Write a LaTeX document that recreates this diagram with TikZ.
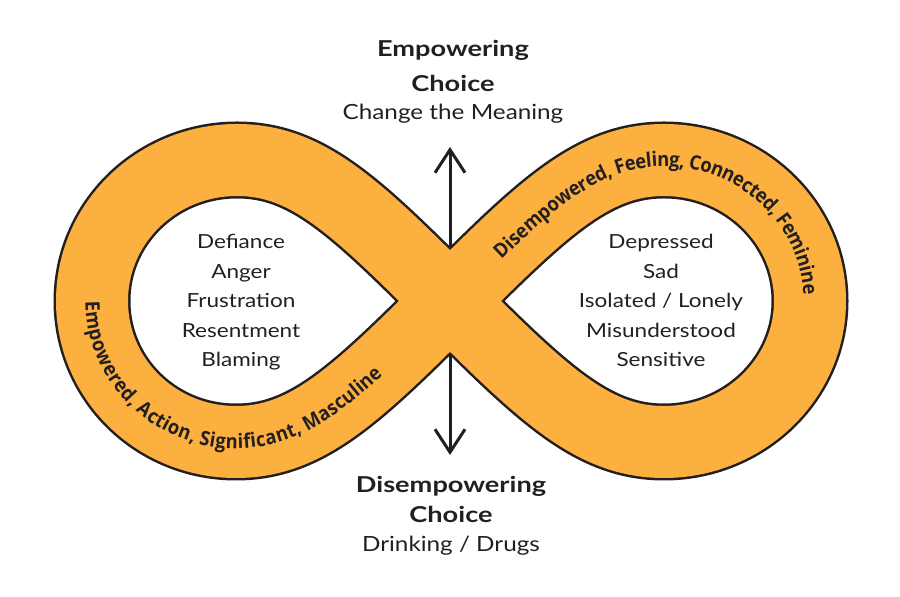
\documentclass[tikz,border=0pt]{standalone}
\usepackage{fontspec}
\setmainfont{Lato}[FakeStretch=1.16]
\newfontfamily\titlefont{Lato}[FakeStretch=1.24]
\newfontfamily\bandfont{Open Sans}[FakeStretch=0.92]
\usetikzlibrary{arrows.meta,decorations.text}
\definecolor{infinityorange}{RGB}{251,176,64}
\definecolor{inkdark}{RGB}{35,31,32}

\begin{document}
\begin{tikzpicture}[x=1bp,y=1bp,>={Straight Barb[length=23bp,width=30bp]},
  title/.style={font=\titlefont\fontsize{22}{26}\selectfont\bfseries,text=inkdark,inner sep=0pt,anchor=base},
  subtitle/.style={font=\fontsize{21}{25}\selectfont,text=inkdark,inner sep=0pt,anchor=base},
  feeling/.style={font=\fontsize{19.5}{23}\selectfont,text=inkdark,inner sep=0pt,anchor=base},
  bandtext/.style={decorate,decoration={text along path,raise=-6.5bp,
    text={|\bandfont\bfseries\fontsize{20}{24}\selectfont\color{inkdark}|#1}}}]
\useasboundingbox (0,0) rectangle (900,597);
\coordinate (C) at (450,296);
\coordinate (topL) at (237,437); \coordinate (leftL) at (92,296); \coordinate (botL) at (236,155);
\coordinate (topR) at (664,437); \coordinate (rightR) at (810,296); \coordinate (botR) at (664,155);
\coordinate (up) at (450,450); \coordinate (down) at (450,142);
\draw[<->,line width=3bp,inkdark] (down) -- (up);
\draw[line width=72bp,infinityorange,preaction={draw=inkdark,line width=77bp}]
  (C) .. controls +(-95,95) and +(70,0) .. (topL) .. controls +(-80,0) and +(0,78) .. (leftL)
  .. controls +(0,-78) and +(-80,0) .. (botL) .. controls +(70,0) and +(-95,-95) .. (C)
  .. controls +(95,95) and +(-70,0) .. (topR) .. controls +(80,0) and +(0,78) .. (rightR)
  .. controls +(0,-78) and +(80,0) .. (botR) .. controls +(-70,0) and +(95,-95) .. (C);
\path[bandtext={Empowered, Action, Significant, Masculine}]
  (leftL) .. controls +(0,-78) and +(-80,0) .. (botL) .. controls +(70,0) and +(-95,-95) .. (C);
\path[bandtext={Disempowered, Feeling, Connected, Feminine},decoration={text align={left indent=66bp}}]
  (C) .. controls +(95,95) and +(-70,0) .. (topR) .. controls +(80,0) and +(0,78) .. (rightR)
  .. controls +(0,-78) and +(80,0) .. (botR);
\node[title] (empowering) at (453,540) {Empowering};
\node[title] (choiceup) at (453,505) {Choice};
\node[subtitle] (meaning) at (453,477) {Change the Meaning};
\node[title] (disempowering) at (451,104) {Disempowering};
\node[title] (choicedown) at (451,74) {Choice};
\node[subtitle] (drugs) at (451,45) {Drinking / Drugs};
\foreach \w [count=\i] in {Defiance,Anger,Frustration,Resentment,Blaming}
  \node[feeling] (left\i) at (241,348-29.5*\i+29.5) {\w};
\foreach \w [count=\i] in {Depressed,Sad,Isolated / Lonely,Misunderstood,Sensitive}
  \node[feeling] (right\i) at (661,348-29.5*\i+29.5) {\w};
\end{tikzpicture}
\end{document}
